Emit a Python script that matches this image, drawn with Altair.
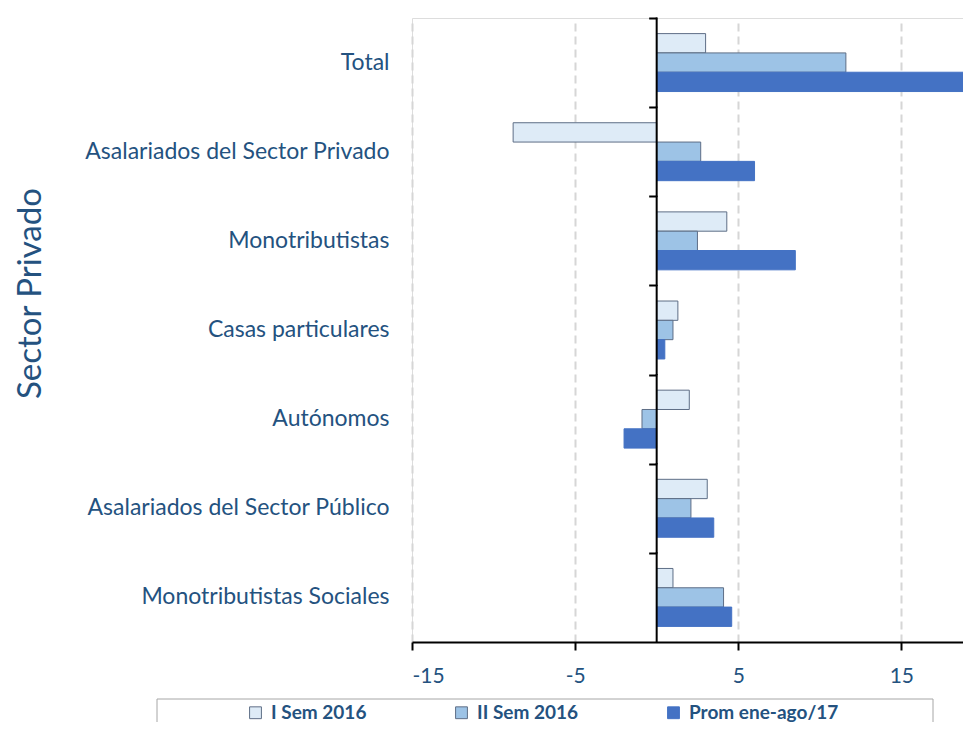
import altair as alt
import pandas as pd

categorias = [
    "Total",
    "Asalariados del Sector Privado",
    "Monotributistas",
    "Casas particulares",
    "Autónomos",
    "Asalariados del Sector Público",
    "Monotributistas Sociales",
]
series = ["I Sem 2016", "II Sem 2016", "Prom ene-ago/17"]
i_sem_2016 = [3.0, -8.8, 4.3, 1.3, 2.0, 3.1, 1.0]
ii_sem_2016 = [11.6, 2.7, 2.5, 1.0, -0.9, 2.1, 4.1]
prom_ene_ago_17 = [20.5, 6.0, 8.5, 0.5, -2.0, 3.5, 4.6]
x_ticks = [-15, -5, 5, 15]

rows = []
for serie, vals in zip(series, [i_sem_2016, ii_sem_2016, prom_ene_ago_17]):
    for c, v in zip(categorias, vals):
        rows.append({"categoria": c, "serie": serie, "valor": v})
df = pd.DataFrame(rows)
zero_df = pd.DataFrame({"categoria": categorias, "cero": [0] * len(categorias)})

W, H = 551, 624
XMIN, XMAX = -15, 18.78
TXT = "#24527F"
FONT = "Lato"
step = H / len(categorias)

x_scale = alt.Scale(domain=[XMIN, XMAX], nice=False, zero=False)
y_scale = alt.Scale(paddingInner=0.35, paddingOuter=0.175)

x_axis = alt.Axis(
    values=x_ticks, grid=True, gridDash=[8, 5], gridColor="#D6D6D6", gridWidth=2,
    domainColor="black", domainWidth=2, tickColor="black", tickWidth=2, tickSize=8,
    labelFont=FONT, labelFontSize=21, labelColor=TXT, labelPadding=15, title=None,
    labelExpr="'' + datum.value")

legend = alt.Legend(
    orient="none", legendX=-166, legendY=685, direction="horizontal",
    title=None, symbolType="square", symbolSize=140, symbolStrokeWidth=1,
    labelFont=FONT, labelFontWeight="bold", labelFontSize=19, labelColor=TXT,
    labelOffset=6, columnPadding=85, padding=0, labelLimit=300,
)

bars = alt.Chart(df).mark_bar(clip=True, strokeWidth=1).encode(
    x=alt.X("valor:Q", scale=x_scale, axis=x_axis),
    y=alt.Y("categoria:N", sort=categorias, scale=y_scale, axis=alt.Axis(
        title="Sector Privado", titleFont=FONT, titleFontSize=33, titleFontWeight="normal",
        titleColor=TXT, titleX=-382, titleY=275, titleAngle=270, titleBaseline="middle",
        titleAlign="center",
        ticks=False, domain=False, labelPadding=23, labelFont=FONT, labelFontSize=23,
        labelColor=TXT, labelLimit=400)),
    yOffset=alt.YOffset("serie:N", sort=series, scale=alt.Scale(paddingInner=0, paddingOuter=0)),
    fill=alt.Fill("serie:N", sort=series, scale=alt.Scale(domain=series, range=["#DEEBF7", "#9DC3E6", "#4472C4"]), legend=legend),
    stroke=alt.Stroke("serie:N", sort=series, scale=alt.Scale(domain=series, range=["#5E6E86", "#5E6E86", "#4472C4"]), legend=legend),
)

tick_offset = -(0 - XMIN) / (XMAX - XMIN) * W
zero_line = alt.Chart(zero_df).mark_tick(color="black", thickness=2, size=step + 1, opacity=1).encode(
    x=alt.X("cero:Q", scale=x_scale, axis=x_axis),
    y=alt.Y("categoria:N", sort=categorias, scale=y_scale, axis=alt.Axis(
        orient="left", offset=tick_offset, labels=False, title=None, domain=False,
        ticks=True, tickBand="center", tickOffset=-step / 2, tickSize=8, tickWidth=2,
        tickColor="black", grid=False)),
)

frame_df = pd.DataFrame({"a": [0]})
frame_style = dict(color="#A6A6A6", strokeWidth=1)
frame_top = alt.Chart(frame_df).mark_rule(**frame_style).encode(
    x=alt.value(-255), x2=alt.value(521), y=alt.value(681))
frame_left = alt.Chart(frame_df).mark_rule(**frame_style).encode(
    x=alt.value(-255), y=alt.value(681), y2=alt.value(704))
frame_right = alt.Chart(frame_df).mark_rule(**frame_style).encode(
    x=alt.value(521), y=alt.value(681), y2=alt.value(704))

chart = alt.layer(bars, zero_line, frame_top, frame_left, frame_right).resolve_axis(
    y="independent"
).properties(
    width=W, height=H, padding={"left": 6, "top": 9, "right": 0, "bottom": 0}
).configure_view(strokeOpacity=0).configure(font=FONT)

chart.save("out.html", embed_options={"renderer": "svg", "actions": False})
